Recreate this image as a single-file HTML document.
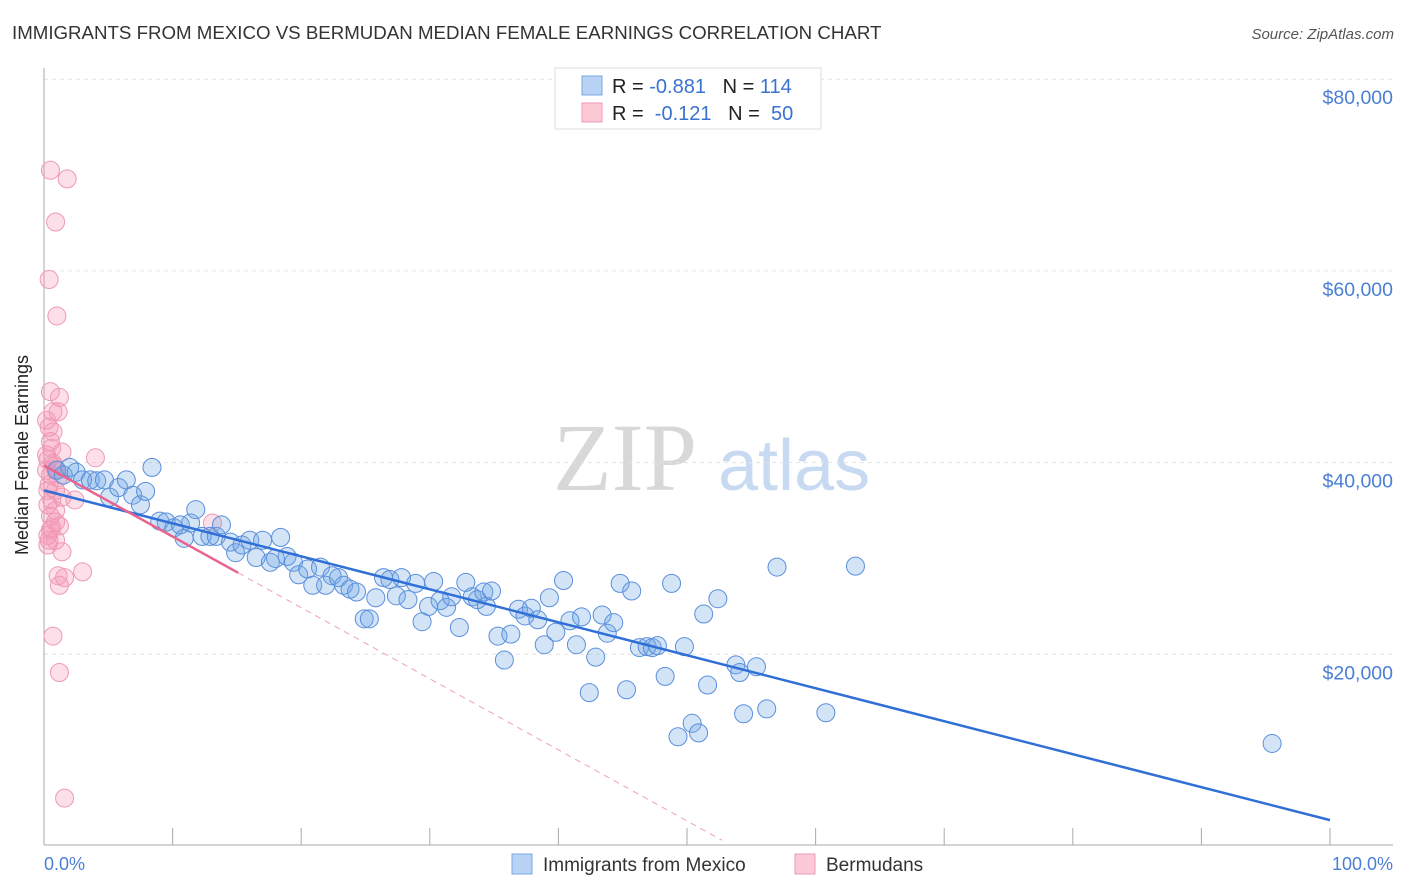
<!DOCTYPE html>
<html><head><meta charset="utf-8"><style>
body{margin:0;background:#fff;font-family:"Liberation Sans",sans-serif}
svg{display:block}
</style></head><body>
<svg id="c" width="1406" height="892" xmlns="http://www.w3.org/2000/svg">
<text x="12" y="39" font-size="18.7" fill="#333">IMMIGRANTS FROM MEXICO VS BERMUDAN MEDIAN FEMALE EARNINGS CORRELATION CHART</text>
<text x="1394" y="39" font-size="15" fill="#555" font-style="italic" text-anchor="end">Source: ZipAtlas.com</text>
<g>
<text x="553" y="490" font-size="96" font-family="Liberation Serif,serif" fill="#d8d8d8">ZIP</text>
<text x="718" y="490" font-size="72" fill="#c8daf2">atlas</text>
</g>
<g id="grid"></g>
<line x1="44" y1="68" x2="44" y2="845" stroke="#aaa"/>
<line x1="44" y1="845" x2="1393" y2="845" stroke="#aaa"/>
<g id="xticks"></g>
<text x="28" y="455" font-size="18" fill="#222" text-anchor="middle" transform="rotate(-90 28 455)">Median Female Earnings</text>
<text x="44" y="870" font-size="18" fill="#4a7fd4">0.0%</text>
<text x="1393" y="870" font-size="18" fill="#4a7fd4" text-anchor="end">100.0%</text>
<g id="pts"></g>
<g id="lines"></g>
<g>
<rect x="555" y="68" width="266" height="61" fill="#fff" stroke="#ddd"/>
<rect x="582" y="76" width="20" height="19" fill="#b9d3f5" stroke="#7aa7e4"/>
<rect x="582" y="103" width="20" height="19" fill="#fcc9d7" stroke="#ee9ab4"/>
<text x="612" y="93" font-size="20" fill="#222" xml:space="preserve">R = <tspan fill="#3a72d0">-0.881</tspan>   N = <tspan fill="#3a72d0">114</tspan></text>
<text x="612" y="120" font-size="20" fill="#222" xml:space="preserve">R =  <tspan fill="#3a72d0">-0.121</tspan>   N =  <tspan fill="#3a72d0">50</tspan></text>
</g>
<g>
<rect x="512" y="854" width="20" height="20" fill="#b9d3f5" stroke="#7aa7e4"/>
<text x="543" y="871" font-size="19" fill="#333">Immigrants from Mexico</text>
<rect x="795" y="854" width="20" height="20" fill="#fcc9d7" stroke="#ee9ab4"/>
<text x="826" y="871" font-size="19" fill="#333">Bermudans</text>
</g>
</svg>
<script>
const yTicks=[20000,40000,60000,80000];
const yTickLabels=["$20,000","$40,000","$60,000","$80,000"];
const xTickVals=[0,10,20,30,40,50,60,70,80,90,100];
const blueX=[1.0,1.5,2.0,2.5,3.0,3.6,4.1,4.7,5.1,5.8,6.4,6.9,7.5,7.9,8.4,9.0,9.5,10.1,10.6,10.9,11.4,11.8,12.3,12.9,13.4,13.8,14.5,14.9,15.4,16.0,16.5,17.0,17.6,18.0,18.4,18.9,19.4,19.8,20.5,20.9,21.5,21.9,22.4,22.9,23.3,23.8,24.3,24.9,25.3,25.8,26.4,26.9,27.4,27.8,28.3,28.9,29.4,29.9,30.3,30.8,31.3,31.7,32.3,32.8,33.3,33.7,34.2,34.4,34.8,35.3,35.8,36.3,36.9,37.4,37.9,38.4,38.9,39.3,39.8,40.4,40.9,41.4,41.8,42.4,42.9,43.4,43.8,44.3,44.8,45.3,45.7,46.3,46.9,47.3,47.7,48.3,48.8,49.3,49.8,50.4,50.9,51.3,51.6,52.4,53.8,54.1,54.4,55.4,56.2,57.0,60.8,63.1,95.5];
const blueY=[39.2,38.7,39.5,39.0,38.2,38.2,38.1,38.2,36.4,37.4,38.2,36.6,35.6,37.0,39.5,33.9,33.8,33.2,33.5,32.1,33.7,35.1,32.3,32.3,32.3,33.5,31.7,30.6,31.4,31.9,30.1,31.9,29.6,30.0,32.2,30.2,29.6,28.3,28.9,27.2,29.1,27.2,28.2,28.0,27.2,26.8,26.5,23.7,23.7,25.9,28.0,27.8,26.1,28.0,25.7,27.4,23.4,25.0,27.6,25.6,24.9,26.0,22.8,27.5,26.0,25.7,26.5,25.0,26.6,21.9,19.4,22.1,24.7,24.0,24.8,23.6,21.0,25.9,22.3,27.7,23.5,21.0,23.9,16.0,19.7,24.1,22.2,23.3,27.4,16.3,26.6,20.7,20.8,20.7,20.9,17.7,27.4,11.4,20.8,12.8,11.8,24.2,16.8,25.8,18.9,18.1,13.8,18.7,14.3,29.1,13.9,29.2,10.7];
const pinkX=[0.5,1.8,0.9,0.4,1.0,0.5,1.2,0.7,1.1,0.4,0.7,0.5,1.4,4.0,0.3,0.7,0.9,0.5,1.1,0.4,1.4,2.4,0.3,0.9,0.5,0.9,0.6,1.2,0.3,0.9,1.4,0.3,1.1,1.6,3.0,1.2,0.7,1.2,1.6,13.1,0.4,0.6,0.2,0.2,0.6,0.3,0.9,0.5,0.2,0.8];
const pinkY=[70.5,69.6,65.1,59.1,55.3,47.4,46.8,45.3,45.3,43.7,43.2,42.2,41.1,40.5,40.3,39.9,39.2,38.7,38.4,37.7,36.4,36.1,35.6,35.0,34.4,33.8,33.2,33.4,32.4,31.9,30.7,31.4,28.2,28.0,28.6,27.2,21.9,18.1,5.0,33.7,31.9,36.1,39.2,40.8,41.5,37.1,37.1,33.0,44.4,39.6];
const blueTrend=[0,37.1,100,2.7];
const pinkTrend=[0,39.7,15.1,28.5];
const NS="http://www.w3.org/2000/svg";
const X=v=>44+v*12.86;
const Y=v=>846-v*9.585; // v in $k
function mk(tag,at,parent){const e=document.createElementNS(NS,tag);for(const k in at)e.setAttribute(k,at[k]);document.getElementById(parent).appendChild(e);return e;}
yTicks.forEach((t,i)=>{
 const g=mk('line',{x1:44,x2:1393,y1:Y(t/1000),y2:Y(t/1000),stroke:'#e3e3e3','stroke-dasharray':'4,4'},'grid');
 
 
 const l=mk('text',{x:1393,y:Y(t/1000)+25,'font-size':19.5,fill:'#4a7fd4','text-anchor':'end'},'grid');
 l.textContent=yTickLabels[i];
 
 
});
xTickVals.forEach(v=>{
 const t=mk('line',{x1:X(v),x2:X(v),y1:828,y2:845,stroke:'#aaa'},'xticks');
 
 
});
pinkX.forEach((x,i)=>{
 const c=mk('circle',{cx:X(x),cy:Y(pinkY[i]),r:9,fill:'rgba(244,150,180,0.3)',stroke:'#ee9ab4','stroke-width':1},'pts');
 
 
});
blueX.forEach((x,i)=>{
 const c=mk('circle',{cx:X(x),cy:Y(blueY[i]),r:9,fill:'rgba(110,165,230,0.3)',stroke:'#5a8fdc','stroke-width':1},'pts');
 
 
});
const b=mk('line',{x1:X(blueTrend[0]),y1:Y(blueTrend[1]),x2:X(blueTrend[2]),y2:Y(blueTrend[3]),stroke:'#2f6fd6','stroke-width':2.5},'lines');


const slope=(pinkTrend[3]-pinkTrend[1])/(pinkTrend[2]-pinkTrend[0]);
const xz=pinkTrend[2]+(0.6-pinkTrend[3])/slope;
const d=mk('line',{x1:X(pinkTrend[2]),y1:Y(pinkTrend[3]),x2:X(xz),y2:Y(0.6),stroke:'#eea0b8','stroke-width':1,'stroke-dasharray':'6,5'},'lines');


const p=mk('line',{x1:X(pinkTrend[0]),y1:Y(pinkTrend[1]),x2:X(pinkTrend[2]),y2:Y(pinkTrend[3]),stroke:'#e8648e','stroke-width':2.5},'lines');


</script>
</body></html>
